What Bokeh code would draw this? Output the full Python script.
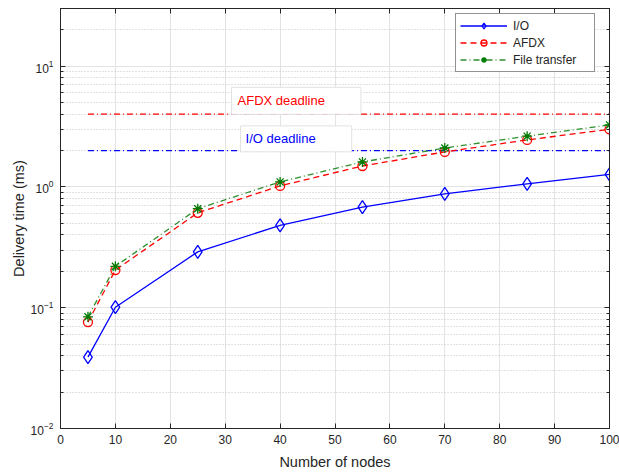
from bokeh.plotting import figure
from bokeh.models import Range1d, Label, FixedTicker, LinearAxis, LogAxis, Legend, LegendItem
from bokeh.embed import file_html
from bokeh.resources import INLINE

nodes = [5, 10, 25, 40, 55, 70, 85, 100]
io_time = [0.039, 0.101, 0.29, 0.48, 0.68, 0.875, 1.06, 1.27]
afdx_time = [0.076, 0.205, 0.61, 1.02, 1.49, 1.95, 2.45, 3.0]
file_time = [0.084, 0.22, 0.66, 1.1, 1.61, 2.1, 2.63, 3.26]
deadline_x = [5, 100]
afdx_deadline = [4, 4]
io_deadline = [2, 2]
x_ticks = [0, 10, 20, 30, 40, 50, 60, 70, 80, 90, 100]
y_ticks = [0.01, 0.1, 1, 10]
y_minor = [m * d for d in [0.01, 0.1, 1, 10] for m in range(2, 10) if m * d <= 30]

AX = "#262626"
FONT = "Liberation Sans"

p = figure(width=619, height=472, y_axis_type="log",
           x_range=Range1d(0, 100), y_range=Range1d(0.01, 30),
           output_backend="svg", toolbar_location=None,
           min_border_left=60, min_border_right=10, min_border_top=8, min_border_bottom=44)
p.outline_line_color = AX
p.outline_line_width = 1
p.background_fill_color = "white"

# grids
p.xgrid.ticker = FixedTicker(ticks=x_ticks)
p.xgrid.grid_line_color = "#e3e3e3"
p.ygrid.ticker = FixedTicker(ticks=y_ticks, minor_ticks=y_minor)
p.ygrid.grid_line_color = "#e3e3e3"
p.ygrid.minor_grid_line_color = "#c4c4c4"
p.ygrid.minor_grid_line_dash = "1 2"

# axes
xa = p.xaxis[0]
xa.ticker = FixedTicker(ticks=x_ticks)
xa.axis_label = "Number of nodes"
ya = p.yaxis[0]
ya.ticker = FixedTicker(ticks=y_ticks, minor_ticks=y_minor)
ya.axis_label = "Delivery time (ms)"
for a in (xa, ya):
    a.axis_line_color = AX
    a.major_tick_line_color = AX
    a.minor_tick_line_color = AX
    a.major_tick_in = 5
    a.major_tick_out = 0
    a.minor_tick_in = 3
    a.minor_tick_out = 0
    a.major_label_text_font = FONT
    a.major_label_text_font_size = "12px"
    a.major_label_text_color = AX
    a.axis_label_text_font = FONT
    a.axis_label_text_font_size = "14.5px"
    a.axis_label_text_font_style = "normal"
    a.axis_label_text_color = AX
xa.minor_tick_line_color = None
xa.major_label_standoff = 6
xa.axis_label_standoff = 7
ya.major_label_standoff = 7
ya.axis_label_standoff = 1

# mirrored tick marks on top and right (labels not drawn)
xt = LinearAxis(ticker=FixedTicker(ticks=x_ticks), major_label_text_font_size="1px",
                major_label_text_color=None, major_label_standoff=0,
                axis_line_color=AX, major_tick_line_color=AX,
                major_tick_in=5, major_tick_out=0, minor_tick_line_color=None)
yr = LogAxis(ticker=FixedTicker(ticks=y_ticks, minor_ticks=y_minor),
             major_label_text_font_size="1px", major_label_text_color=None,
             major_label_standoff=0,
             axis_line_color=AX, major_tick_line_color=AX, minor_tick_line_color=AX,
             major_tick_in=5, major_tick_out=0, minor_tick_in=3, minor_tick_out=0)
p.add_layout(xt, "above")
p.add_layout(yr, "right")

# deadlines
p.line(deadline_x, afdx_deadline, line_color="red", line_width=1.2, line_dash="6 3 1 3")
p.line(deadline_x, io_deadline, line_color="blue", line_width=1.2, line_dash="6 3 1 3")

p.add_layout(Label(x=31.15, y=5.16, text="AFDX deadline", text_color="red",
                   text_font=FONT, text_font_size="13px", text_baseline="middle",
                   border_line_color="#e2e2e2", background_fill_color="white",
                   padding=(6, 36, 6, 6)))
p.add_layout(Label(x=32.8, y=2.5, text="I/O deadline", text_color="blue",
                   text_font=FONT, text_font_size="13px", text_baseline="middle",
                   border_line_color="#e2e2e2", background_fill_color="white",
                   padding=(5, 36, 5, 6)))

# series
GREEN_L = "#2f8f2f"
GREEN_M = "#007a00"
l1 = p.line(nodes, io_time, line_color="blue", line_width=1.3)
m1 = p.scatter(nodes, io_time, marker="diamond", size=13, line_color="blue",
               fill_color=None, line_width=1.3)
l2 = p.line(nodes, afdx_time, line_color="red", line_width=1.3, line_dash="6 4")
m2 = p.scatter(nodes, afdx_time, marker="circle", size=9, line_color="red",
               fill_color=None, line_width=1.3)
l3 = p.line(nodes, file_time, line_color=GREEN_L, line_width=1.3, line_dash="6 3 1 3")
m3 = p.scatter(nodes, file_time, marker="asterisk", size=10, line_color=GREEN_M,
               line_width=1.3)

legend = Legend(items=[LegendItem(label="I/O", renderers=[l1, m1]),
                       LegendItem(label="AFDX", renderers=[l2, m2]),
                       LegendItem(label="File transfer", renderers=[l3, m3])],
                location=(395, 356))
legend.border_line_color = AX
legend.border_line_width = 1
legend.background_fill_color = "white"
legend.background_fill_alpha = 1
legend.label_text_font = FONT
legend.label_text_font_size = "12px"
legend.label_text_color = AX
legend.glyph_width = 47
legend.glyph_height = 15
legend.label_height = 15
legend.label_width = 77
legend.label_standoff = 6
legend.padding = 4
legend.spacing = 2
legend.margin = 0
p.add_layout(legend)

open("out.html", "w").write(file_html(p, INLINE))
